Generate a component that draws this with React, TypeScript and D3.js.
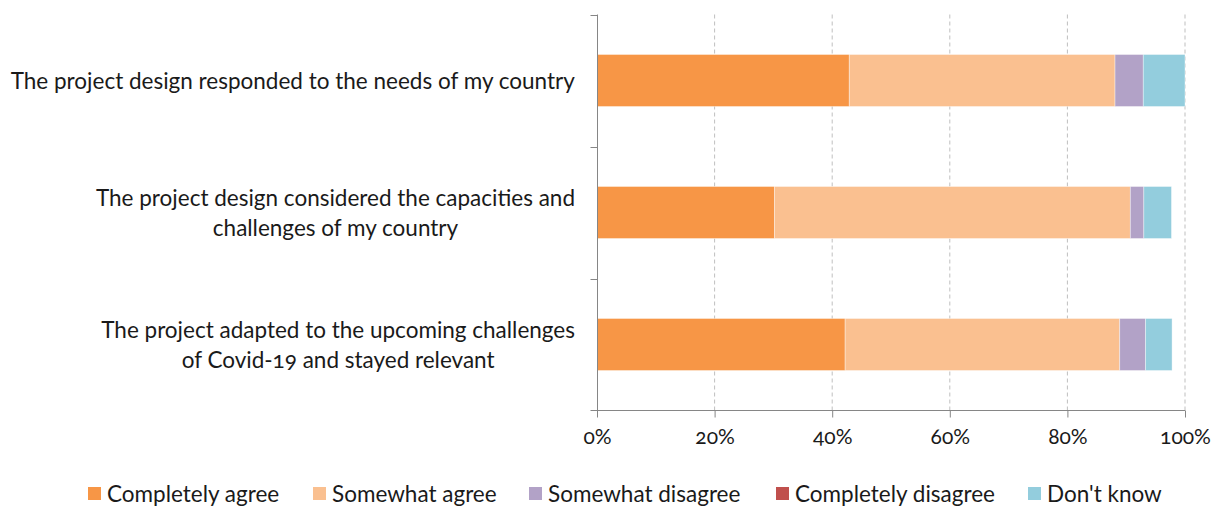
import React, { useRef, useEffect } from "react";
import * as d3 from "d3";

const categories: string[][] = [
    ["The project design responded to the needs of my country"],
    ["The project design considered the capacities and", "challenges of my country"],
    ["The project adapted to the upcoming challenges", "of Covid-19 and stayed relevant"],
];

const seriesNames = ["Completely agree", "Somewhat agree", "Somewhat disagree", "Completely disagree", "Don't know"];
const seriesColors = ["#F79646", "#FAC090", "#B2A2C7", "#C0504D", "#93CDDD"];

// share of answers per category, one array per series
const completelyAgree = [0.429, 0.302, 0.422];
const somewhatAgree = [0.452, 0.605, 0.467];
const somewhatDisagree = [0.048, 0.023, 0.044];
const completelyDisagree = [0, 0, 0];
const dontKnow = [0.071, 0.047, 0.045];

const tickValues = [0, 0.2, 0.4, 0.6, 0.8, 1];

const FONT = "Lato, 'Open Sans', sans-serif";
const TEXT = "#1a1a1a";
const FS = "22.5px";

const App: React.FC = () => {
    const ref = useRef<HTMLDivElement>(null);

    useEffect(() => {
        if (!ref.current) return;
        document.body.style.margin = "0";
        d3.select(ref.current).selectAll("*").remove();

        const width = 1215;
        const height = 506;
        const svg = d3.select(ref.current)
            .append("svg")
            .attr("width", width)
            .attr("height", height)
            .style("display", "block")
            .style("font-family", FONT)
            .style("font-variant-numeric", "oldstyle-nums");

        const keys = categories.map((_, i) => i);
        const x = d3.scaleLinear().domain([0, 1]).range([597, 1185]);
        const y = d3.scaleBand<number>()
            .domain(keys)
            .range([14.5, 410.5])
            .paddingInner(0.606)
            .paddingOuter(0.303);

        const rows = keys.map(i => ({
            i,
            v: [completelyAgree[i], somewhatAgree[i], somewhatDisagree[i], completelyDisagree[i], dontKnow[i]],
        }));
        const stack = d3.stack<typeof rows[0], number>()
            .keys([0, 1, 2, 3, 4])
            .value((d, k) => d.v[k]);
        const series = stack(rows);

        // gridlines
        svg.append("g")
            .selectAll("line")
            .data(tickValues.slice(1))
            .enter()
            .append("line")
            .attr("x1", d => x(d))
            .attr("x2", d => x(d))
            .attr("y1", 14.5)
            .attr("y2", 410.5)
            .attr("stroke", "#BFBFBF")
            .attr("stroke-width", 1)
            .attr("stroke-dasharray", "4,3");

        // bars
        svg.append("g")
            .selectAll("g")
            .data(series)
            .enter()
            .append("g")
            .attr("fill", (_, k) => seriesColors[k])
            .selectAll("rect")
            .data(d => d)
            .enter()
            .append("rect")
            .attr("x", d => x(d[0]))
            .attr("width", d => Math.max(0, x(d[1]) - x(d[0])))
            .attr("y", d => y(d.data.i) as number)
            .attr("height", y.bandwidth())
            .attr("stroke", "#ffffff")
            .attr("stroke-opacity", d => (d[1] - d[0] > 0 ? 0.5 : 0))
            .attr("stroke-width", 0.75);

        // x axis
        const xAxis = svg.append("g")
            .attr("transform", "translate(0,410.5)")
            .call(d3.axisBottom(x).tickValues(tickValues).tickSize(7).tickPadding(12)
                .tickFormat(d => d3.format(".0%")(d as number)));
        xAxis.select(".domain").attr("stroke", "#868686").attr("d", "M597,0H1185");
        xAxis.selectAll(".tick line").attr("stroke", "#868686");
        xAxis.selectAll(".tick text")
            .attr("fill", TEXT)
            .style("font-size", "21px")
            .style("font-family", FONT);

        // y axis
        const yAxis = svg.append("g")
            .attr("transform", "translate(597.5,0)");
        yAxis.append("line")
            .attr("y1", 14.5)
            .attr("y2", 410.5)
            .attr("stroke", "#868686");
        const yTicks = [14.5, ...keys.map(i => (y(i) as number) + y.bandwidth() + (y.step() - y.bandwidth()) / 2)];
        yAxis.selectAll("line.t")
            .data(yTicks)
            .enter()
            .append("line")
            .attr("class", "t")
            .attr("x1", -7)
            .attr("x2", 0)
            .attr("y1", d => Math.round(d) + 0.5)
            .attr("y2", d => Math.round(d) + 0.5)
            .attr("stroke", "#868686");

        // category labels: lines centred on each other, block right aligned
        const lineH = 30;
        const labels = svg.append("g")
            .selectAll("text")
            .data(keys)
            .enter()
            .append("text")
            .attr("text-anchor", "middle")
            .attr("fill", TEXT)
            .style("font-size", FS);
        labels.each(function (i) {
            const lines = categories[i];
            const cy = (y(i) as number) + y.bandwidth() / 2 + 1;
            const t = d3.select(this);
            lines.forEach((ln, j) => {
                t.append("tspan")
                    .attr("x", 0)
                    .attr("y", cy + (j - (lines.length - 1) / 2) * lineH)
                    .attr("dy", "0.35em")
                    .text(ln);
            });
            const w = (this as SVGTextElement).getBBox().width;
            t.selectAll("tspan").attr("x", 575 - w / 2);
        });

        // legend
        const legendX = [88, 313, 529, 776, 1028];
        const legend = svg.append("g")
            .selectAll("g")
            .data(seriesNames)
            .enter()
            .append("g")
            .attr("transform", (_, k) => `translate(${legendX[k]},494)`);
        legend.append("rect")
            .attr("x", 0)
            .attr("y", -7)
            .attr("width", 13)
            .attr("height", 13)
            .attr("fill", (_, k) => seriesColors[k]);
        legend.append("text")
            .attr("x", 19)
            .attr("dy", "0.35em")
            .attr("fill", TEXT)
            .style("font-size", FS)
            .text(d => d);
    }, []);

    return <div ref={ref} style={{ width: 1215, height: 506 }}></div>;
};

export default App;
